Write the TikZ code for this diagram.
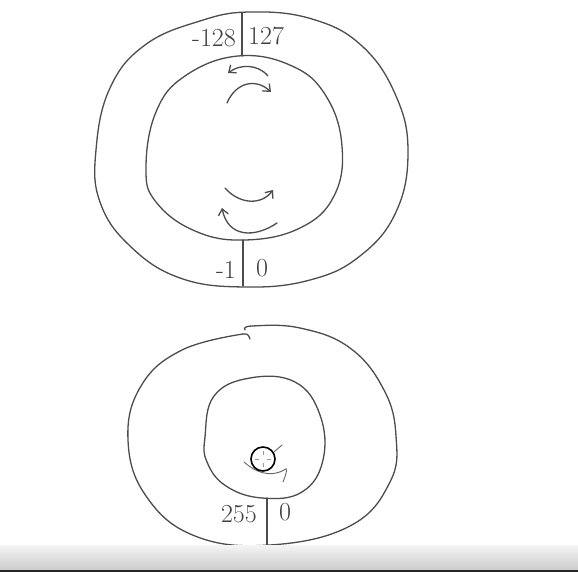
\documentclass[tikz,border=0pt]{standalone}
\usepackage{tikz}
\usetikzlibrary{arrows.meta}

\tikzset{
    sketch/.style={draw=black!70, line width=1.3pt, line cap=round, line join=round},
    sketcharrow/.style={sketch, -{Straight Barb[length=6pt, width=10pt]}},
    numlabel/.style={font=\fontsize{26}{30}\selectfont, text=black!75, inner sep=0pt}
}

\begin{document}
\begin{tikzpicture}[x=1pt, y=-1pt]

\useasboundingbox (0,0) rectangle (578,572);
\fill[white] (0,0) rectangle (578,572);

% =========================================================
%  TOP: signed byte ring
% =========================================================
\begin{scope}
    % outer ring
    \draw[sketch] plot[smooth cycle, tension=0.7] coordinates {
        (96,150) (110,88) (145,45) (200,21) (250,12) (312,19) (362,46)
        (396,96) (408,152) (396,212) (360,256) (310,280) (245,287)
        (180,278) (130,246) (100,202)};
    % inner ring
    \draw[sketch] plot[smooth cycle, tension=0.7] coordinates {
        (146,168) (156,112) (185,76) (238,56) (292,66) (326,96)
        (342,146) (334,196) (300,228) (245,240) (195,231) (156,202)};

    % dividers
    \draw[sketch] (242,13) -- (242,56);
    \draw[sketch] (243,240) -- (243,286);

    \node[numlabel, anchor=east] (minmax) at (236,38) {-128};
    \node[numlabel, anchor=west] (maxval) at (248,36) {127};
    \node[numlabel, anchor=east] (minusone) at (236,270) {-1};
    \node[numlabel, anchor=west] (zeroval) at (256,268) {0};

    % rotation strokes, top
    \draw[sketcharrow] (268,76) .. controls (258,64) and (240,64) .. (228,73);
    \draw[sketcharrow] (227,103) .. controls (236,82) and (256,78) .. (271,92);

    % rotation strokes, bottom
    \draw[sketcharrow] (225,188) .. controls (240,205) and (262,205) .. (273,190);
    \draw[sketcharrow] (277,223) .. controls (255,238) and (228,238) .. (222,208);
\end{scope}

% =========================================================
%  BOTTOM: unsigned byte ring
% =========================================================
\begin{scope}
    % outer ring, open at the top where the stroke starts and ends
    \draw[sketch] plot[smooth, tension=0.7] coordinates {
        (245,330) (252,326) (300,328) (350,348) (384,390)
        (396,436) (390,482) (350,526) (270,545) (195,536) (146,496)
        (128,440) (141,386) (182,350) (243,334)};
    \draw[sketch] (243,334) .. controls (248,334) .. (250,339);
    % inner ring
    \draw[sketch] plot[smooth cycle, tension=0.7] coordinates {
        (205,437) (214,396) (250,378) (295,382) (320,415) (323,460)
        (302,492) (262,498) (226,486) (207,462)};

    % divider
    \draw[sketch] (267,498) -- (267,545);

    \node[numlabel, anchor=east] (maxbyte) at (257,514) {255};
    \node[numlabel, anchor=west] (zerobyte) at (279,512) {0};

    % pointer cursor
    \draw[black!60, line width=0.9pt, line cap=round]
        (244,462) .. controls (255,472) and (270,478) .. (284,470)
        .. controls (288,466) and (287,472) .. (283,482);
    \draw[black!60, line width=0.9pt, line cap=round] (274,452) -- (282,445);
    \fill[white] (263,459) circle (12);
    \draw[black, line width=1.6pt] (263,459) circle (12);
    \draw[black!40, line width=0.8pt]
        (263,451) -- (263,455) (263,463) -- (263,467)
        (255,459) -- (259,459) (267,459) -- (271,459);
\end{scope}

% =========================================================
%  window edge
% =========================================================
\shade[top color=white!96!black, bottom color=black!20] (0,545) rectangle (578,570);
\fill[black!85] (0,570) rectangle (578,572);

\end{tikzpicture}
\end{document}
